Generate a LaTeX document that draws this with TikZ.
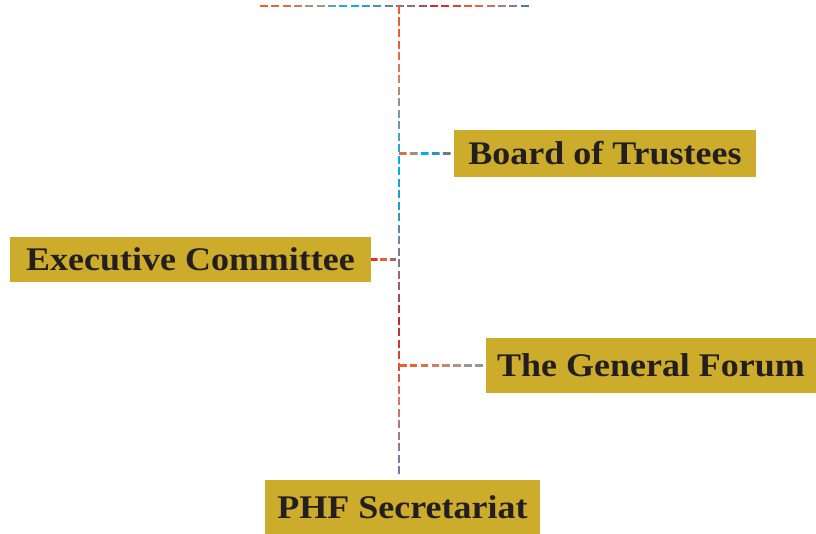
\documentclass[tikz,border=0pt]{standalone}
\usepackage{fontspec}
\setmainfont{Liberation Serif}[FakeStretch=1.09]
\usetikzlibrary{calc}
\definecolor{boxgold}{HTML}{CDAB2B}
\definecolor{txt}{HTML}{231F20}
% top line stops
\definecolor{h0}{HTML}{F15A29}\definecolor{h1}{HTML}{D8704E}\definecolor{h2}{HTML}{9A9A90}
\definecolor{h3}{HTML}{00AEEF}\definecolor{h4}{HTML}{4E8FA0}\definecolor{h5}{HTML}{8F6E78}
\definecolor{h6}{HTML}{D2232A}\definecolor{h7}{HTML}{F15A29}\definecolor{h8}{HTML}{B07A88}
\definecolor{h9}{HTML}{3B78B8}
% vertical stops
\definecolor{v0}{HTML}{F15A29}\definecolor{v1}{HTML}{EE6030}\definecolor{v2}{HTML}{C88870}
\definecolor{v3}{HTML}{6A9CA8}\definecolor{v4}{HTML}{00AEEF}\definecolor{v5}{HTML}{10A2D0}
\definecolor{v6}{HTML}{6A8A9A}\definecolor{v7}{HTML}{9A6870}\definecolor{v8}{HTML}{C02838}
\definecolor{v9}{HTML}{E04030}\definecolor{v10}{HTML}{E07060}\definecolor{v11}{HTML}{A07888}
\definecolor{v12}{HTML}{6A78B0}
% board connector
\definecolor{b0}{HTML}{F15A29}\definecolor{b1}{HTML}{C08870}\definecolor{b2}{HTML}{00AEEF}
\definecolor{b3}{HTML}{3090A8}\definecolor{b4}{HTML}{9A6A70}
% exec connector
\definecolor{e0}{HTML}{D2232A}\definecolor{e1}{HTML}{F15A29}\definecolor{e2}{HTML}{7A7090}
% forum connector
\definecolor{f0}{HTML}{F15A29}\definecolor{f1}{HTML}{F06038}\definecolor{f2}{HTML}{D8785A}
\definecolor{f3}{HTML}{C09078}\definecolor{f4}{HTML}{A09488}\definecolor{f5}{HTML}{8A9A9A}
\newcommand\gradline[5]{%
  \foreach \gi in {1,...,#3}{%
    \pgfmathsetmacro\gt{(\gi-0.5)/#3*#5}%
    \pgfmathtruncatemacro\ga{min(floor(\gt),#5-1)}%
    \pgfmathtruncatemacro\gb{\ga+1}%
    \pgfmathtruncatemacro\gp{round(100*(1-(\gt-\ga)))}%
    \colorlet{dc}{#4\ga!\gp!#4\gb}%
    \pgfmathsetmacro\ua{(\gi-1)/#3}%
    \pgfmathsetmacro\ub{(\gi-1+0.7)/#3}%
    \draw[conn,dc] ($#1!\ua!#2$) -- ($#1!\ub!#2$);
  }}
\begin{document}
\begin{tikzpicture}[x=1pt,y=-1pt,
  conn/.style={line width=2.6pt,line cap=butt},
  org/.style={fill=boxgold,text=txt,inner sep=0pt,font=\fontsize{33}{38}\selectfont\bfseries,
    text height=22pt,text depth=0pt,align=center}]
\useasboundingbox (0,0) rectangle (816,534);
\node[org,minimum width=302pt,minimum height=47pt] (board) at (605,153.5) {Board of Trustees};
\node[org,minimum width=361pt,minimum height=45pt] (exec) at (190.5,259.5) {Executive Committee};
\node[org,minimum width=330pt,minimum height=55pt] (forum) at (651,365.5) {The General Forum};
\node[org,minimum width=275pt,minimum height=54pt] (phf) at (402.5,507) {PHF Secretariat};
\coordinate (top) at (399,6);
\coordinate (tl) at (260,6);
\coordinate (tr) at (532,6);
\coordinate (bot) at ($(phf.north)+(-3.5,-2)$);
\coordinate (jb) at (top |- board.west);
\coordinate (je) at (top |- exec.east);
\coordinate (jf) at (top |- forum.west);
\gradline{(tl)}{(tr)}{24}{h}{9}
\gradline{(top)}{(bot)}{41}{v}{12}
\gradline{(jb)}{(board.west)}{5}{b}{4}
\gradline{(exec.east)}{(je)}{3}{e}{2}
\gradline{(jf)}{(forum.west)}{8}{f}{5}
\end{tikzpicture}
\end{document}
